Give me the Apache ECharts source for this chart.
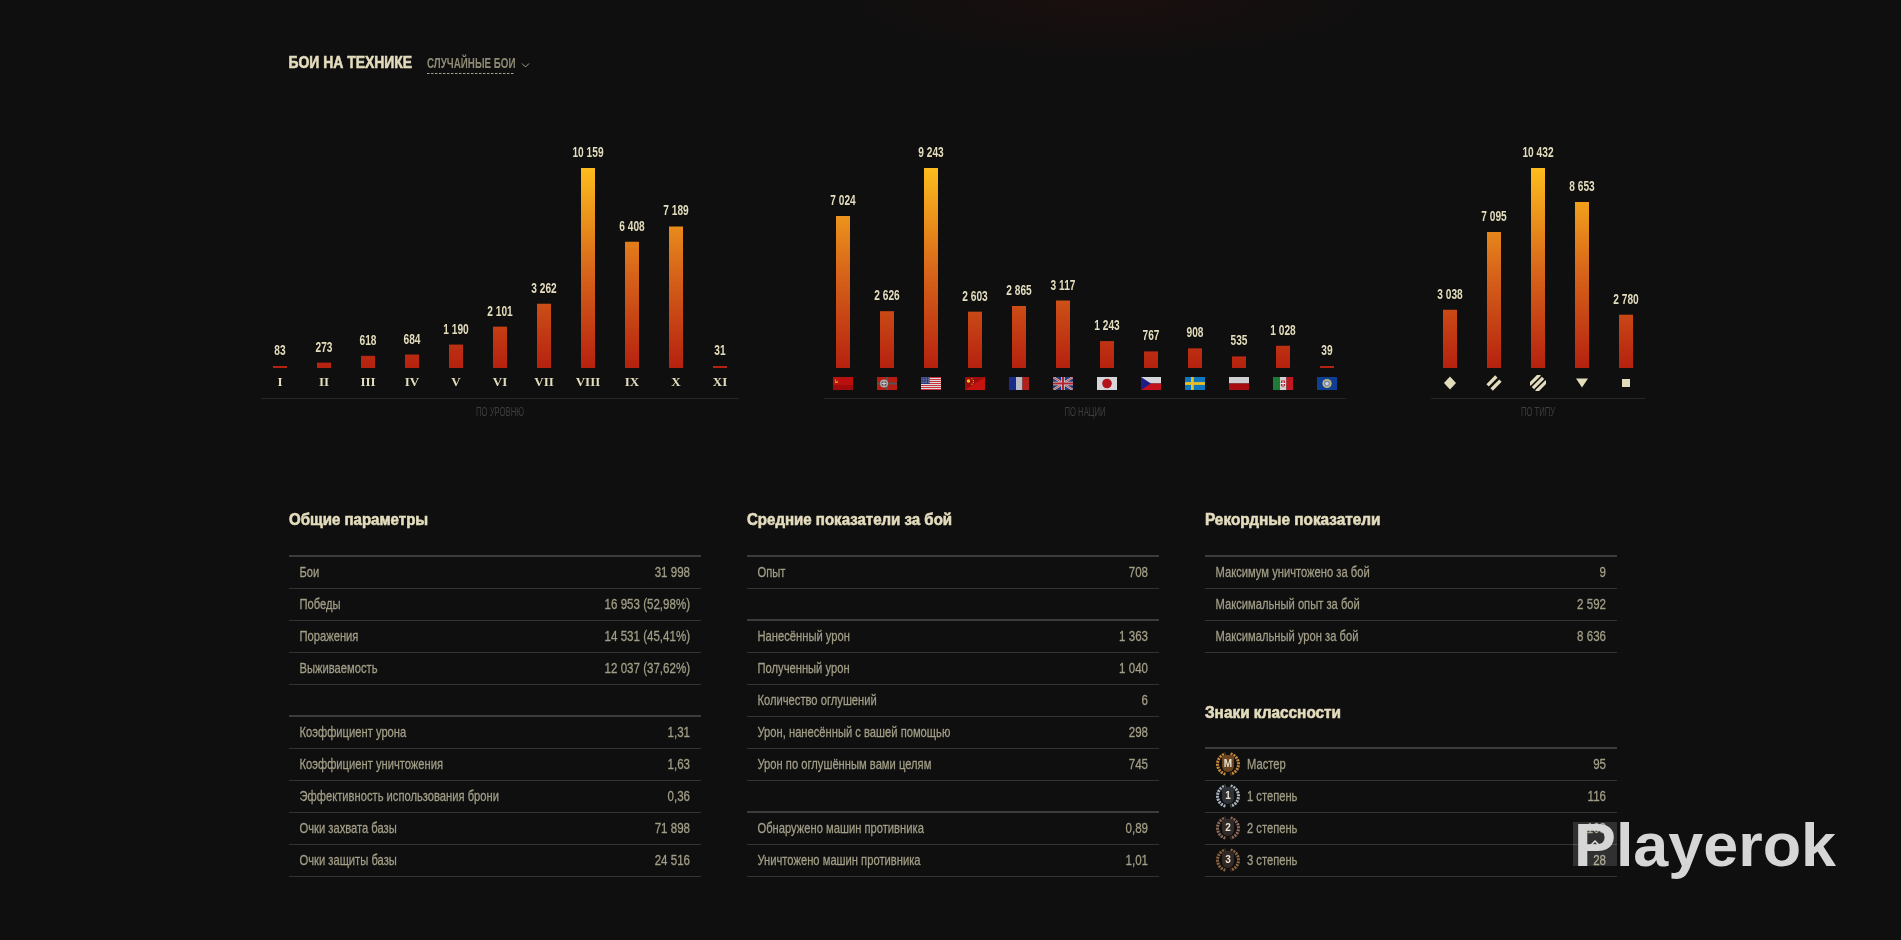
<!DOCTYPE html>
<html><head><meta charset="utf-8">
<style>html,body{margin:0;padding:0;background:#0f0f0f;overflow:hidden}#c{width:1901px;height:940px}</style>
<script src="https://cdn.jsdelivr.net/npm/echarts@6/dist/echarts.min.js"></script>
</head><body><div id="c"></div>
<script>
// ---------- data ----------
const levelCats = ['I','II','III','IV','V','VI','VII','VIII','IX','X','XI'];
const levelVals = [83,273,618,684,1190,2101,3262,10159,6408,7189,31];
const nationCats = ['ussr','germany','usa','china','france','uk','japan','czech','sweden','poland','italy','intl'];
const nationVals = [7024,2626,9243,2603,2865,3117,1243,767,908,535,1028,39];
const typeCats = ['lt','mt','ht','td','spg'];
const typeVals = [3038,7095,10432,8653,2780];
const generalRows = [['Бои','31 998'],['Победы','16 953 (52,98%)'],['Поражения','14 531 (45,41%)'],['Выживаемость','12 037 (37,62%)'],null,
  ['Коэффициент урона','1,31'],['Коэффициент уничтожения','1,63'],['Эффективность использования брони','0,36'],['Очки захвата базы','71 898'],['Очки защиты базы','24 516']];
const averageRows = [['Опыт','708'],null,['Нанесённый урон','1 363'],['Полученный урон','1 040'],['Количество оглушений','6'],
  ['Урон, нанесённый с вашей помощью','298'],['Урон по оглушённым вами целям','745'],null,['Обнаружено машин противника','0,89'],['Уничтожено машин противника','1,01']];
const recordRows = [['Максимум уничтожено за бой','9'],['Максимальный опыт за бой','2 592'],['Максимальный урон за бой','8 636']];
const classRows = [['Мастер','95','М'],['1 степень','116','1'],['2 степень','103','2'],['3 степень','28','3']];

// ---------- palette / fonts ----------
const BASE = '"Liberation Sans",sans-serif';
const CREAM = '#e3dcbd', MUTED = '#a19d86', LINE = '#343434', THICK = '#3c3c3c', BG = '#0f0f0f';

const svg = s => 'data:image/svg+xml;charset=utf-8,' + encodeURIComponent(s);
const flag = b => svg('<svg xmlns="http://www.w3.org/2000/svg" width="40" height="26" viewBox="0 0 20 13">' + b + '</svg>');
const icon = b => svg('<svg xmlns="http://www.w3.org/2000/svg" width="32" height="32" viewBox="0 0 16 16" fill="'+CREAM+'">' + b + '</svg>');
let usStripes = ''; for (let i = 0; i < 7; i++) usStripes += `<rect y="${i*2}" width="20" height="1" fill="#c9323a"/>`;
let usStars = ''; for (let r = 0; r < 4; r++) for (let k = 0; k < 5; k++) usStars += `<rect x="${.6+k*1.6}" y="${.6+r*1.6}" width=".6" height=".6" fill="#ddd"/>`;
const flags = {
  ussr: flag('<rect width="20" height="13" fill="#b8100f"/><rect y="8" width="20" height="5" fill="#a00c0c"/><circle cx="3.5" cy="3.6" r="1.6" fill="#e8c020"/><circle cx="3.9" cy="3.2" r="1.3" fill="#b8100f"/><rect x="2" y="5" width="3" height=".7" fill="#e8c020"/>'),
  germany: flag('<rect width="20" height="13" fill="#b51d12"/><path d="M0 5.5H20V7.5H0ZM9 0H11V13H9Z" fill="#555"/><circle cx="7" cy="6.5" r="4" fill="#aaa"/><circle cx="7" cy="6.5" r="2.6" fill="#555"/><path d="M6.4 4.2H7.6V8.8H6.4ZM4.7 5.9H9.3V7.1H4.7Z" fill="#ccc"/>'),
  usa: flag('<rect width="20" height="13" fill="#ddd"/>'+usStripes+'<rect width="8.5" height="7" fill="#2b3a78"/>'+usStars),
  china: flag('<rect width="20" height="13" fill="#c5140f"/><path d="M0 0H20L0 13Z" fill="#9a0d0b"/><circle cx="3.5" cy="4" r="1.7" fill="#e7c21d"/><circle cx="7" cy="1.8" r=".6" fill="#e7c21d"/><circle cx="8.4" cy="3.6" r=".6" fill="#e7c21d"/><circle cx="8.4" cy="5.6" r=".6" fill="#e7c21d"/><circle cx="7" cy="7.2" r=".6" fill="#e7c21d"/>'),
  france: flag('<rect width="7" height="13" fill="#1b2d8c"/><rect x="7" width="6.5" height="13" fill="#b9bcc5"/><rect x="13.5" width="6.5" height="13" fill="#b3201c"/>'),
  uk: flag('<rect width="20" height="13" fill="#2a3a78"/><path d="M0 0L20 13M20 0L0 13" stroke="#ccc" stroke-width="2.2"/><path d="M0 0L20 13M20 0L0 13" stroke="#b52431" stroke-width=".8"/><path d="M10 0V13M0 6.5H20" stroke="#ccc" stroke-width="3.6"/><path d="M10 0V13M0 6.5H20" stroke="#b52431" stroke-width="2"/>'),
  japan: flag('<rect width="20" height="13" fill="#d6d6da"/><circle cx="10" cy="6.5" r="4.8" fill="#b5121b"/>'),
  czech: flag('<rect width="20" height="6.5" fill="#d5d6dc"/><rect y="6.5" width="20" height="6.5" fill="#c4121c"/><path d="M0 0L10 6.5L0 13Z" fill="#1d1d86"/>'),
  sweden: flag('<rect width="20" height="13" fill="#0f78bd"/><rect x="6" width="2.8" height="13" fill="#e8bd26"/><rect y="5.1" width="20" height="2.8" fill="#e8bd26"/>'),
  poland: flag('<rect width="20" height="6.5" fill="#cfcfd4"/><rect y="6.5" width="20" height="6.5" fill="#a80d12"/>'),
  italy: flag('<rect width="7" height="13" fill="#1f7a35"/><rect x="7" width="6.5" height="13" fill="#d0d0d0"/><rect x="13.5" width="6.5" height="13" fill="#c21620"/><path d="M8 3.5H12V8.5L10 10.5L8 8.5Z" fill="#b8232c"/><path d="M9.5 4H10.5V9.5H9.5ZM8 6H12V7H8Z" fill="#eee"/>'),
  intl: flag('<rect width="20" height="13" fill="#0f3f93"/><circle cx="10" cy="6.5" r="4.6" fill="#c8b978"/><circle cx="10" cy="6.5" r="3.1" fill="#7f8fb5"/><circle cx="10" cy="6.5" r="1.5" fill="#d8d8e0"/>')
};
const typeIcons = {
  lt: icon('<path d="M8 1.6L14 8L8 14.4L2 8Z"/>'),
  mt: icon('<g transform="rotate(45 8 8)"><rect x="3.4" y="1.8" width="3.4" height="12.4"/><rect x="9.2" y="1.8" width="3.4" height="12.4"/></g>'),
  ht: icon('<g transform="rotate(45 8 8)"><rect x="1.6" y="0.8" width="3.2" height="14.4"/><rect x="6.4" y="0.8" width="3.2" height="14.4"/><rect x="11.2" y="0.8" width="3.2" height="14.4"/></g>'),
  td: icon('<path d="M2 3.5H14L8 12.5Z"/>'),
  spg: icon('<rect x="4" y="4" width="8" height="8"/>')
};

const richFlags = {}; nationCats.forEach(k => richFlags[k] = {width: 20, height: 13, backgroundColor: {image: flags[k]}});
const richTypes = {}; typeCats.forEach(k => richTypes[k] = {width: 16, height: 16, backgroundColor: {image: typeIcons[k]}});

// ---------- charts ----------
const barFill = new echarts.graphic.LinearGradient(0, 168, 0, 368, [
  {offset: 0, color: '#fdbd1d'}, {offset: .5, color: '#d9681a'}, {offset: 1, color: '#b5210f'}], true);
const fmt = v => String(v).replace(/\B(?=(\d{3})+$)/g, ' ');
const grids = [], xAxes = [], yAxes = [], seriesList = [];
function addChart(i, left, cats, vals, axisLabel) {
  grids.push({left, width: cats.length * 44, top: 168, height: 200});
  xAxes.push({type: 'category', gridIndex: i, data: cats, axisLine: {show: false}, axisTick: {show: false},
    axisLabel: Object.assign({interval: 0, margin: 8}, axisLabel)});
  yAxes.push({type: 'value', gridIndex: i, min: 0, max: Math.max(...vals), show: false, splitLine: {show: false}});
  seriesList.push({type: 'bar', xAxisIndex: i, yAxisIndex: i, data: vals, barWidth: 14, barMinHeight: 2, silent: true, animation: false,
    itemStyle: {color: barFill}});
  // value labels: condensed text anchored through the axes
  seriesList.push({type: 'custom', coordinateSystem: 'cartesian2d', xAxisIndex: i, yAxisIndex: i, silent: true, animation: false, clip: false,
    data: vals.map((v, k) => [k, v]),
    renderItem: (p, api) => {
      const pt = api.coord([api.value(0), api.value(1)]);
      const base = api.coord([0, 0])[1];
      return {type: 'text', x: pt[0], y: Math.min(pt[1], base - 2) - 15, scaleX: .7, silent: true,
        style: {text: fmt(api.value(1)), fill: CREAM, font: 'bold 14.5px ' + BASE, align: 'center', verticalAlign: 'middle'}};
    }});
}
addChart(0, 258, levelCats, levelVals, {color: CREAM, fontFamily: '"Liberation Serif",serif', fontWeight: 'bold', fontSize: 13});
addChart(1, 821, nationCats, nationVals, {formatter: v => `{${v}|}`, rich: richFlags, margin: 9});
addChart(2, 1428, typeCats, typeVals, {formatter: v => `{${v}|}`, rich: richTypes, margin: 7});

// ---------- page furniture ----------
const g = [];
const txt = (x, y, text, o = {}) => g.push({type: 'text', x, y, silent: true, scaleX: o.sx || 1,
  style: Object.assign({text, fill: o.c || MUTED, font: `${o.w || 'normal'} ${o.s || 15}px ${BASE}`, align: o.a || 'left', verticalAlign: 'middle'},
    o.heavy ? {stroke: o.c || MUTED, lineWidth: o.heavy} : {})});
const bar = (x, y, w, h, c) => g.push({type: 'rect', silent: true, shape: {x, y, width: w, height: h}, style: {fill: c}});

g.push({type: 'circle', silent: true, x: 1110, y: 0, scaleX: 4.5, shape: {cx: 0, cy: 0, r: 65},
  style: {fill: new echarts.graphic.RadialGradient(.5, .5, .5, [{offset: 0, color: 'rgba(90,12,8,.14)'}, {offset: 1, color: 'rgba(90,12,8,0)'}])}});

txt(288.5, 64, 'БОИ НА ТЕХНИКЕ', {c: CREAM, w: 'bold', s: 16, sx: .87, heavy: .6});
txt(427, 64.5, 'СЛУЧАЙНЫЕ БОИ', {c: '#8f8b75', w: 'bold', s: 14, sx: .7});
for (let x = 427; x < 515; x += 4) bar(x, 73, 2.5, 1, '#a5a18a');
g.push({type: 'polyline', silent: true, shape: {points: [[522, 63.5], [525.5, 67], [529, 63.5]]}, style: {stroke: '#a5a18a', lineWidth: 1, fill: 'none'}});

[[261, 739, 'ПО УРОВНЮ', 500], [824, 1346, 'ПО НАЦИИ', 1085], [1431, 1645, 'ПО ТИПУ', 1538]].forEach(([a, b, t, cx]) => {
  bar(a, 398, b - a, 1, '#262626');
  txt(cx, 413, t, {a: 'center', c: '#3e3e3e', s: 12, sx: .64});
});

function table(x0, x1, yTop, rows, icons) {
  let y = yTop;
  bar(x0, y - 1, x1 - x0, 2, THICK);
  rows.forEach((r, i) => {
    if (!r) { y += 32; bar(x0, y - 1, x1 - x0, 2, THICK); return; }
    const tx = icons ? x0 + 42 : x0 + 10.5;
    txt(tx, y + 16.5, r[0], {sx: .746, heavy: .3}); txt(x1 - 11, y + 16.5, r[1], {a: 'right', sx: .77, heavy: .3});
    if (icons) badge(x0 + 23, y + 16, r[2], i);
    y += 32; bar(x0, y, x1 - x0, 1, LINE);
  });
}
const badgeCols = [['#c98a3c', '#6b4522'], ['#aab6c2', '#2f3236'], ['#8e6a58', '#322b29'], ['#8c6440', '#322825']];
function badge(cx, cy, t, i) {
  const [rim, core] = badgeCols[i];
  const PI = Math.PI;
  [[-.42 * PI, .42 * PI], [.58 * PI, 1.42 * PI]].forEach(([a, b]) =>
    g.push({type: 'arc', silent: true, shape: {cx, cy, r: 10.5, startAngle: a, endAngle: b, clockwise: true},
      style: {stroke: rim, lineWidth: 3, fill: 'none', lineDash: [2, 1]}}));
  g.push({type: 'rect', silent: true, shape: {x: cx - 6, y: cy - 9, width: 12, height: 17, r: [3, 3, 6, 6]}, style: {fill: core}});
  txt(cx, cy, t, {a: 'center', c: '#e8e2cf', w: 'bold', s: 10});
}
const heading = (x, y, t, sx) => txt(x, y, t, {c: CREAM, w: 'bold', s: 16, sx, heavy: .6});
heading(289, 520.5, 'Общие параметры', .94);
heading(747, 520.5, 'Средние показатели за бой', .94);
heading(1205, 520.5, 'Рекордные показатели', .96);
heading(1205, 713.5, 'Знаки классности', .96);
table(289, 701, 556, generalRows);
table(747, 1159, 556, averageRows);
table(1205, 1617, 556, recordRows);
table(1205, 1617, 748, classRows, true);

// watermark + scroll-up button
bar(1573, 822, 44, 44, 'rgba(255,255,255,.14)');
g.push({type: 'polyline', silent: true, shape: {points: [[1590, 846], [1595, 841], [1600, 846]]}, style: {stroke: '#ddd', lineWidth: 1.5, fill: 'none'}});
g.push({type: 'text', x: 1574, y: 819, silent: true, scaleX: 1.03,
  style: {text: 'Playerok', fill: '#d6d6d6', font: 'bold 61px ' + BASE, verticalAlign: 'top', align: 'left'}});

const chart = echarts.init(document.getElementById('c'), null, {renderer: 'canvas', width: 1901, height: 940});
chart.setOption({animation: false, backgroundColor: BG, grid: grids, xAxis: xAxes, yAxis: yAxes, series: seriesList, graphic: {elements: g}});
</script></body></html>
